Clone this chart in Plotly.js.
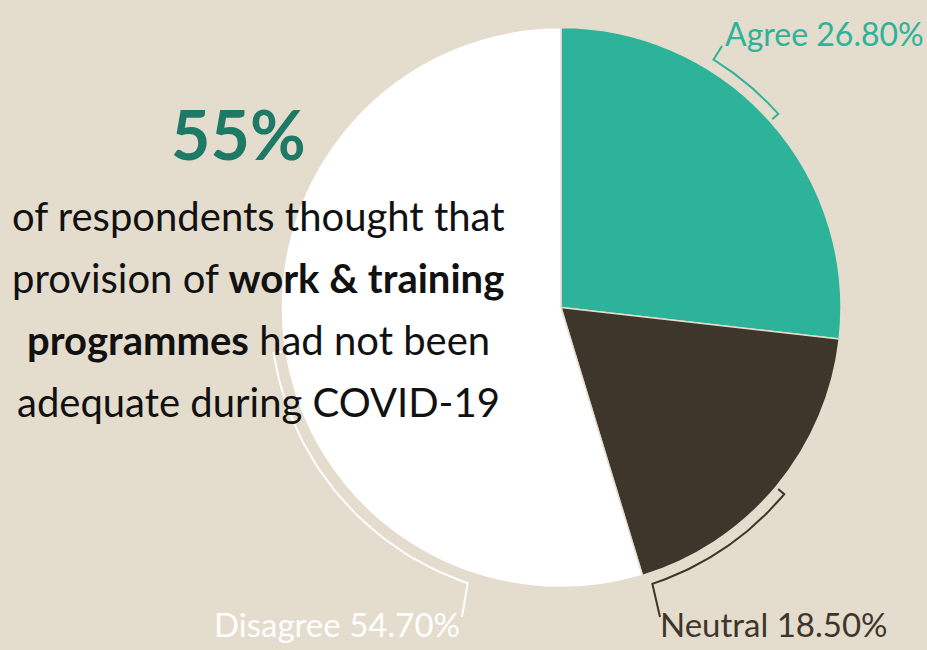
<!DOCTYPE html>
<html>
<head>
<meta charset="utf-8">
<script src="https://cdn.plot.ly/plotly-3.0.1.min.js"></script>
<style>
  html, body { margin: 0; padding: 0; background: #e4dccd; }
  #chart { width: 927px; height: 650px; }
</style>
</head>
<body>
<div id="chart"></div>
<script>
// ---- data ----
const categories = ['Agree', 'Neutral', 'Disagree'];
const values = [26.8, 18.5, 54.7];
const headline = '55%';
const bodyLines = [
  'of respondents thought that',
  'provision of <b>work &amp; training</b>',
  '<b>programmes</b> had not been',
  'adequate during COVID-19'
];

// ---- styles ----
const BG = '#e4dccd';
const sliceColors = ['#2db39a', '#3e362b', '#ffffff'];
const labelColors = ['#2db39a', '#3e362b', '#ffffff'];
const FONT = 'Lato, "Open Sans", "Noto Sans", sans-serif';
const W = 927, H = 650;
const cx = 561, cy = 307.5, R = 280;       // pie placement (px)
const bR = 291, tickLen = 8;               // bracket radius (px)

// bracket layout per category: arc span (deg clockwise from top), which end has the leader,
// leader end point and label anchor
const bracketCfg = [
  {a0: 31.6, a1: 48.3, leaderAt: 'start', leaderTo: [722, 46], label: {x: 723, y: 33, xanchor: 'left', size: 32}},
  {a0: 129.9, a1: 161.7, leaderAt: 'end', leaderTo: [660, 617], label: {x: 658, y: 624, xanchor: 'left', size: 33}},
  {a0: 198.7, a1: 261, leaderAt: 'start', leaderTo: [462, 617], label: {x: 462, y: 624, xanchor: 'right', size: 33}}
];

function pt(a, r) {
  const t = a * Math.PI / 180;
  return [cx + r * Math.sin(t), cy - r * Math.cos(t)];
}

const traces = [{
  type: 'pie',
  labels: categories,
  values: values,
  sort: false,
  direction: 'clockwise',
  rotation: 0,
  textinfo: 'none',
  hoverinfo: 'label+percent',
  showlegend: false,
  marker: {colors: sliceColors, line: {color: BG, width: 1.5}},
  domain: {x: [(cx - R) / W, (cx + R) / W], y: [1 - (cy + R) / H, 1 - (cy - R) / H]}
}];

const annotations = [];
categories.forEach((c, i) => {
  const cfg = bracketCfg[i];
  const xs = [], ys = [];
  const arc = [];
  const n = 40;
  for (let k = 0; k <= n; k++) arc.push(pt(cfg.a0 + (cfg.a1 - cfg.a0) * k / n, bR));
  const tickStart = pt(cfg.a0, bR - tickLen);
  const tickEnd = pt(cfg.a1, bR - tickLen);
  let pts;
  if (cfg.leaderAt === 'start') pts = [cfg.leaderTo].concat(arc, [tickEnd]);
  else pts = [tickStart].concat(arc, [cfg.leaderTo]);
  pts.forEach(p => { xs.push(p[0]); ys.push(p[1]); });
  traces.push({
    type: 'scatter', mode: 'lines', x: xs, y: ys, hoverinfo: 'skip', showlegend: false,
    line: {color: labelColors[i], width: 2}
  });
  annotations.push({
    xref: 'x', yref: 'y', x: cfg.label.x, y: cfg.label.y, xanchor: cfg.label.xanchor, yanchor: 'middle',
    showarrow: false, text: c + ' ' + values[i].toFixed(2) + '%',
    font: {family: FONT, size: cfg.label.size, color: labelColors[i]}
  });
});

annotations.push({
  xref: 'x', yref: 'y', x: 238, y: 133, xanchor: 'center', yanchor: 'middle', showarrow: false,
  text: '<b>' + headline + '</b>', font: {family: FONT, size: 68, color: '#1e7a66'}
});
const lineY = [216, 278, 340, 402];
bodyLines.forEach((t, i) => {
  annotations.push({
    xref: 'x', yref: 'y', x: 258, y: lineY[i], xanchor: 'center', yanchor: 'middle', showarrow: false,
    text: t, font: {family: FONT, size: 40, color: '#111111'}
  });
});

const layout = {
  width: W, height: H,
  margin: {l: 0, r: 0, t: 0, b: 0},
  paper_bgcolor: BG, plot_bgcolor: 'rgba(0,0,0,0)',
  xaxis: {range: [0, W], visible: false, fixedrange: true, domain: [0, 1]},
  yaxis: {range: [H, 0], visible: false, fixedrange: true, domain: [0, 1]},
  annotations: annotations,
  showlegend: false
};

Plotly.newPlot('chart', traces, layout, {displayModeBar: false, staticPlot: true});
</script>
</body>
</html>
